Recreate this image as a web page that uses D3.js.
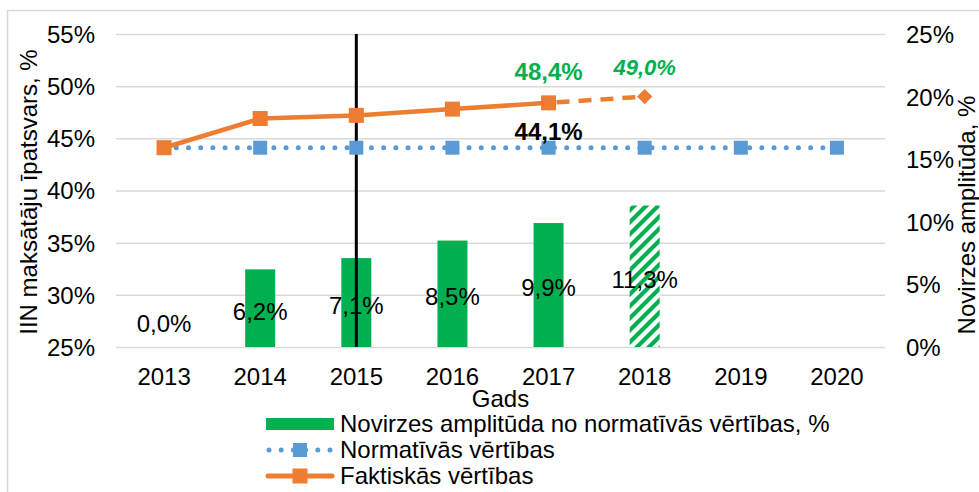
<!DOCTYPE html>
<html>
<head>
<meta charset="utf-8">
<script src="https://cdn.jsdelivr.net/npm/d3@7"></script>
<style>
  body { margin: 0; background: #fff; }
  svg text { font-family: "Liberation Sans", Arial, sans-serif; fill: #000; }
</style>
</head>
<body>
<div id="chart"></div>
<script>
// chart values
const years = [2013, 2014, 2015, 2016, 2017, 2018, 2019, 2020];
const amplitude = [0.0, 6.2, 7.1, 8.5, 9.9, 11.3, null, null];
const amplitudeForecastYears = [2018];
const normative = [44.1, 44.1, 44.1, 44.1, 44.1, 44.1, 44.1, 44.1];
const actual = [44.1, 46.9, 47.2, 47.8, 48.4, null, null, null];
const forecastYears = [2017, 2018];
const forecast = [48.4, 49.0];
const leftTicks = [25, 30, 35, 40, 45, 50, 55];
const rightTicks = [0, 5, 10, 15, 20, 25];
const markerYear = 2015;

const legendLabels = ["Novirzes amplitūda no normatīvās vērtības, %", "Normatīvās vērtības", "Faktiskās vērtības"];

const green = "#00B050", blue = "#5B9BD5", orange = "#ED7D31", grid = "#D9D9D9";

const W = 979, H = 492;
const plot = {left: 116, right: 885, top: 34, bottom: 347};
const fs = 24;

const lv = d3.formatLocale({decimal: ",", thousands: " ", grouping: [3], currency: ["", "%"]});
const pct = v => lv.format(".1f")(v) + "%";

const svg = d3.select("#chart").append("svg")
    .attr("width", W).attr("height", H);

// hatch for forecast bar
const defs = svg.append("defs");
const pat = defs.append("pattern")
    .attr("id", "hatch").attr("patternUnits", "userSpaceOnUse")
    .attr("width", 12).attr("height", 12);
pat.append("rect").attr("width", 12).attr("height", 12).attr("fill", "#fff");
pat.append("path").attr("d", "M-3,3 L3,-3 M0,12 L12,0 M9,15 L15,9")
    .attr("stroke", green).attr("stroke-width", 4.2);

// outer chart frame
svg.append("rect").attr("x", 7.5).attr("y", 10.5).attr("width", 1000).attr("height", 520)
    .attr("fill", "none").attr("stroke", grid).attr("stroke-width", 1.5);

const x = d3.scaleBand().domain(years).range([plot.left, plot.right]);
const cx = d => x(d) + x.bandwidth() / 2;
const yL = d3.scaleLinear().domain([25, 55]).range([plot.bottom, plot.top]);
const yR = d3.scaleLinear().domain([0, 25]).range([plot.bottom, plot.top]);

// gridlines
svg.append("g").attr("transform", `translate(${plot.left},0)`)
    .call(d3.axisLeft(yL).tickValues(leftTicks).tickSize(-(plot.right - plot.left)).tickFormat(""))
    .call(g => g.select(".domain").remove())
    .call(g => g.selectAll("line").attr("stroke", grid).attr("stroke-width", 1.5));

// left axis labels
svg.append("g").attr("transform", `translate(${plot.left - 21},0)`)
    .call(d3.axisLeft(yL).tickValues(leftTicks).tickSize(0).tickPadding(0).tickFormat(d => d + "%"))
    .call(g => g.select(".domain").remove())
    .call(g => g.selectAll("text").attr("font-size", fs).attr("dy", "0.35em"));

// right axis labels
svg.append("g").attr("transform", `translate(${plot.right + 21},0)`)
    .call(d3.axisRight(yR).tickValues(rightTicks).tickSize(0).tickPadding(0).tickFormat(d => d + "%"))
    .call(g => g.select(".domain").remove())
    .call(g => g.selectAll("text").attr("font-size", fs).attr("dy", "0.35em"));

// x axis labels
svg.append("g").attr("transform", `translate(0,${plot.bottom + 21})`)
    .call(d3.axisBottom(x).tickSize(0).tickPadding(0))
    .call(g => g.select(".domain").remove())
    .call(g => g.selectAll("text").attr("font-size", fs).attr("dy", "0.72em"));

// axis titles
svg.append("text").attr("x", (plot.left + plot.right) / 2).attr("y", 407)
    .attr("text-anchor", "middle").attr("font-size", fs).text("Gads");
svg.append("text").attr("transform", "translate(37,192) rotate(-90)")
    .attr("text-anchor", "middle").attr("font-size", fs).text("IIN maksātāju īpatsvars, %");
svg.append("text").attr("transform", "translate(975,215) rotate(-90)")
    .attr("text-anchor", "middle").attr("font-size", fs).text("Novirzes amplitūda, %");

// bars
const barData = years.map((y, i) => ({year: y, v: amplitude[i]})).filter(d => d.v !== null);
const barW = 30;
svg.append("g").selectAll("rect").data(barData).join("rect")
    .attr("x", d => cx(d.year) - barW / 2)
    .attr("y", d => yR(d.v))
    .attr("width", barW)
    .attr("height", d => yR(0) - yR(d.v))
    .attr("fill", d => amplitudeForecastYears.includes(d.year) ? "url(#hatch)" : green);

// vertical marker line
svg.append("line").attr("x1", cx(markerYear)).attr("x2", cx(markerYear))
    .attr("y1", plot.top).attr("y2", plot.bottom)
    .attr("stroke", "#000").attr("stroke-width", 3);

// bar labels
svg.append("g").selectAll("text").data(barData).join("text")
    .attr("x", d => cx(d.year))
    .attr("y", d => Math.min((yR(d.v) + yR(0)) / 2 + 3, yR(0) - 23))
    .attr("dy", "0.35em").attr("text-anchor", "middle").attr("font-size", fs)
    .text(d => pct(d.v));

// normative dotted line
const normData = years.map((y, i) => ({year: y, v: normative[i]}));
const line = d3.line().x(d => cx(d.year)).y(d => yL(d.v));
svg.append("path").datum(normData).attr("d", line)
    .attr("fill", "none").attr("stroke", blue).attr("stroke-width", 5)
    .attr("stroke-linecap", "round").attr("stroke-dasharray", "0 12.2");
svg.append("g").selectAll("rect").data(normData).join("rect")
    .attr("x", d => cx(d.year) - 7).attr("y", d => yL(d.v) - 7)
    .attr("width", 14).attr("height", 14).attr("fill", blue);

// actual values
const actData = years.map((y, i) => ({year: y, v: actual[i]})).filter(d => d.v !== null);
const fcData = forecastYears.map((y, i) => ({year: y, v: forecast[i]}));
svg.append("path").datum(fcData).attr("d", line)
    .attr("fill", "none").attr("stroke", orange).attr("stroke-width", 4.5)
    .attr("stroke-dasharray", "13 9").attr("stroke-dashoffset", -8);
svg.append("path").datum(actData).attr("d", line)
    .attr("fill", "none").attr("stroke", orange).attr("stroke-width", 4.5);
svg.append("g").selectAll("rect").data(actData).join("rect")
    .attr("x", d => cx(d.year) - 7.5).attr("y", d => yL(d.v) - 7.5)
    .attr("width", 15).attr("height", 15).attr("fill", orange);
const last = fcData[fcData.length - 1];
svg.append("path")
    .attr("d", d3.symbol().type(d3.symbolDiamond2).size(150)())
    .attr("transform", `translate(${cx(last.year)},${yL(last.v)})`)
    .attr("fill", orange);

// value labels
svg.append("text").attr("x", cx(2017)).attr("y", 132).attr("dy", "0.35em")
    .attr("text-anchor", "middle").attr("font-size", fs).attr("font-weight", "bold")
    .text(pct(normative[years.indexOf(2017)]));
svg.append("text").attr("x", cx(2017)).attr("y", 72).attr("dy", "0.35em")
    .attr("text-anchor", "middle").attr("font-size", fs).attr("font-weight", "bold")
    .style("fill", green).text(pct(actual[years.indexOf(2017)]));
svg.append("text").attr("x", cx(last.year)).attr("y", 67).attr("dy", "0.35em")
    .attr("text-anchor", "middle").attr("font-size", 22).attr("font-weight", "bold")
    .attr("font-style", "italic").style("fill", green).text(pct(last.v));

// legend
const lg = svg.append("g").attr("transform", "translate(266,0)");
const rows = [424, 450, 476];
lg.append("rect").attr("x", 0).attr("y", rows[0] - 6).attr("width", 68).attr("height", 12).attr("fill", green);
lg.append("line").attr("x1", 3).attr("x2", 68).attr("y1", rows[1]).attr("y2", rows[1])
    .attr("stroke", blue).attr("stroke-width", 5).attr("stroke-linecap", "round").attr("stroke-dasharray", "0 12.2");
lg.append("rect").attr("x", 27).attr("y", rows[1] - 7).attr("width", 14).attr("height", 14).attr("fill", blue);
lg.append("line").attr("x1", 2).attr("x2", 66).attr("y1", rows[2]).attr("y2", rows[2])
    .attr("stroke", orange).attr("stroke-width", 5).attr("stroke-linecap", "round");
lg.append("rect").attr("x", 26.5).attr("y", rows[2] - 7.5).attr("width", 15).attr("height", 15).attr("fill", orange);
lg.selectAll("text.lbl").data(legendLabels).join("text").attr("class", "lbl")
    .attr("x", 74).attr("y", (d, i) => rows[i]).attr("dy", "0.35em").attr("font-size", fs)
    .text(d => d);
</script>
</body>
</html>
